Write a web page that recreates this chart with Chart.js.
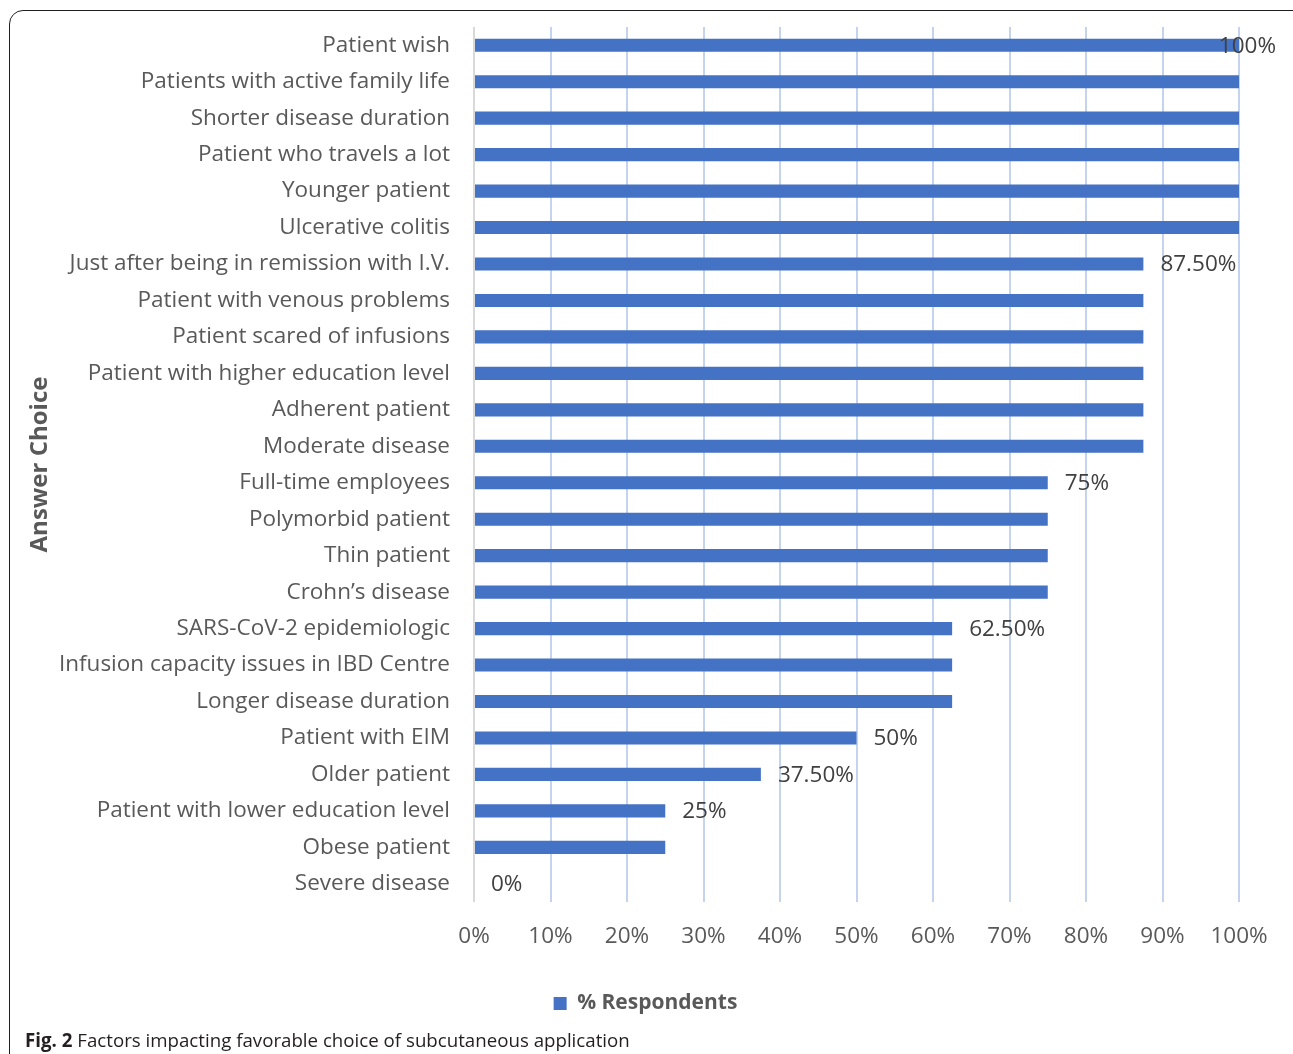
<!DOCTYPE html>
<html>
<head>
<meta charset="utf-8">
<script src="https://cdn.jsdelivr.net/npm/chart.js@4"></script>
<style>
  html, body { margin: 0; padding: 0; background: #fff; }
  #wrap { position: relative; width: 1293px; height: 1054px; overflow: hidden; }
  #frame {
    position: absolute; left: 9px; top: 10px; width: 1300px; height: 1100px;
    border: 1.5px solid #1e1e1e; border-radius: 14px; box-sizing: border-box;
  }
  #chart { position: absolute; left: 0; top: 0; }
  #caption {
    position: absolute; left: 25px; top: 1027px;
    font-family: "Open Sans", sans-serif; font-size: 18.7px; color: #231f20;
    white-space: nowrap;
  }
  #caption b { font-weight: 700; }
</style>
</head>
<body>
<div id="wrap">
  <div id="frame"></div>
  <canvas id="chart" width="1293" height="1054"></canvas>
  <div id="caption"><b>Fig. 2</b> Factors impacting favorable choice of subcutaneous application</div>
</div>
<script>
// answer choices, top to bottom
const categories = [
    'Patient wish',
    'Patients with active family life',
    'Shorter disease duration',
    'Patient who travels a lot',
    'Younger patient',
    'Ulcerative colitis',
    'Just after being in remission with I.V.',
    'Patient with venous problems',
    'Patient scared of infusions',
    'Patient with higher education level',
    'Adherent patient',
    'Moderate disease',
    'Full-time employees',
    'Polymorbid patient',
    'Thin patient',
    'Crohn\u2019s disease',
    'SARS-CoV-2 epidemiologic',
    'Infusion capacity issues in IBD Centre',
    'Longer disease duration',
    'Patient with EIM',
    'Older patient',
    'Patient with lower education level',
    'Obese patient',
    'Severe disease'
];

const respondents = [
    100, 100, 100, 100, 100, 100,
    87.5, 87.5, 87.5, 87.5, 87.5, 87.5,
    75, 75, 75, 75,
    62.5, 62.5, 62.5,
    50, 37.5, 25, 25, 0
];

// rows that carry a value label in the original
const labelledRows = [0, 6, 12, 16, 19, 20, 21, 23];
const valueLabels = ['100%', '87.50%', '75%', '62.50%', '50%', '37.50%', '25%', '0%'];

const xTicks = [0, 10, 20, 30, 40, 50, 60, 70, 80, 90, 100];

const FONT = '"Open Sans", sans-serif';
const TEXT = '#595959';
const BAR = '#4472c4';

const valueLabelPlugin = {
    id: 'valueLabels',
    afterDatasetsDraw(chart) {
        const ctx = chart.ctx;
        const meta = chart.getDatasetMeta(0);
        ctx.save();
        ctx.font = '22.5px ' + FONT;
        ctx.fillStyle = '#404040';
        ctx.textBaseline = 'middle';
        ctx.textAlign = 'left';
        labelledRows.forEach((row, i) => {
            const bar = meta.data[row];
            const txt = valueLabels[i];
            const w = ctx.measureText(txt).width;
            let x = bar.x + 17;
            const limit = chart.chartArea.right + 37;
            if (x + w > limit) x = limit - w;
            ctx.fillText(txt, x, bar.y + 1);
        });
        ctx.restore();
    }
};

// legend sits centred on the whole figure, not on the padded box
const legendShift = {
    id: 'legendShift',
    afterLayout(chart) {
        chart.legend.left += 21;
        chart.legend.right += 21;
    }
};

new Chart(document.getElementById('chart'), {
    type: 'bar',
    data: {
        labels: categories,
        datasets: [{
            label: '% Respondents',
            data: respondents,
            backgroundColor: BAR,
            borderWidth: 0,
            categoryPercentage: 1,
            barPercentage: 0.36
        }]
    },
    options: {
        indexAxis: 'y',
        responsive: false,
        animation: false,
        events: [],
        layout: { padding: { top: 27, right: 54, left: 10, bottom: 30 } },
        plugins: {
            legend: {
                display: true,
                position: 'bottom',
                labels: {
                    color: TEXT,
                    boxWidth: 13,
                    boxHeight: 13,
                    padding: 8,
                    font: { family: FONT, size: 21, weight: 'bold' }
                }
            },
            tooltip: { enabled: false }
        },
        scales: {
            x: {
                min: 0,
                max: 100,
                afterBuildTicks: s => { s.ticks = xTicks.map(v => ({ value: v })); },
                afterFit: s => { s.height = 83; },
                border: { display: false },
                grid: {
                    drawTicks: false,
                    lineWidth: 2,
                    color: c => c.index === 0 ? '#d9d9d9' : '#c5d4ee'
                },
                ticks: {
                    padding: 21,
                    color: TEXT,
                    font: { family: FONT, size: 22.5 },
                    callback: v => v + '%'
                }
            },
            y: {
                afterFit: s => {
                    s.width = 464;
                    s.paddingTop = 0;
                    s.paddingBottom = 0;
                },
                border: { display: false },
                grid: { display: false, drawTicks: false },
                ticks: {
                    padding: 24,
                    color: TEXT,
                    autoSkip: false,
                    font: { family: FONT, size: 22.5 }
                },
                title: {
                    display: true,
                    text: 'Answer Choice',
                    color: TEXT,
                    padding: { top: 16, bottom: 0 },
                    font: { family: FONT, size: 24, weight: 'bold' }
                }
            }
        }
    },
    plugins: [valueLabelPlugin, legendShift]
});
</script>
</body>
</html>
